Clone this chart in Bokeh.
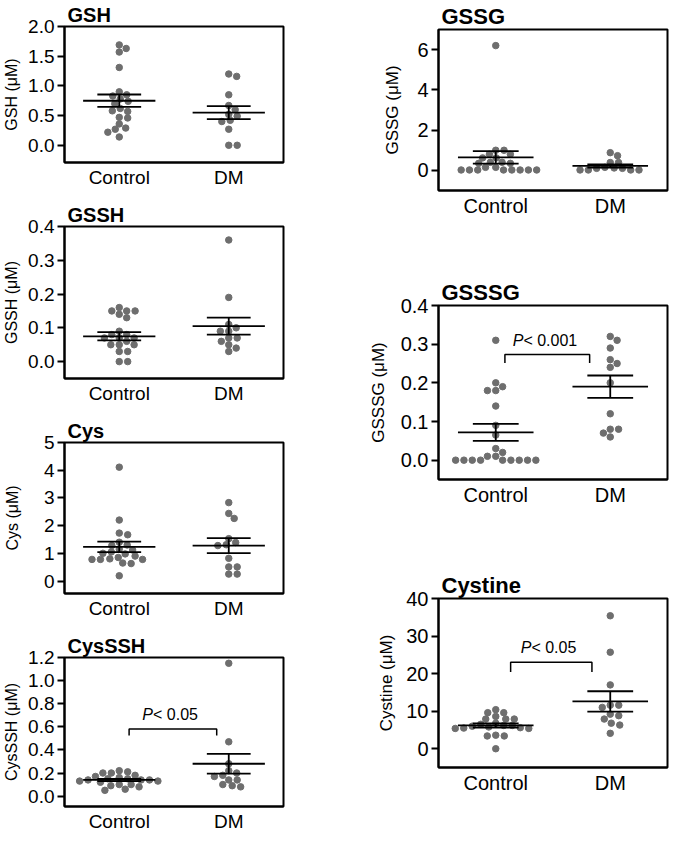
import numpy as np
from bokeh.plotting import figure
from bokeh.layouts import row, column
from bokeh.models import Range1d, FixedTicker, PrintfTickFormatter
from bokeh.core.properties import value
from bokeh.embed import file_html
from bokeh.resources import INLINE

FONT = "Liberation Sans"
groups = ["Control", "DM"]

# ---- data (µM) ----
gsh_control = [1.69, 1.63, 1.57, 1.31, 0.90, 0.85, 0.83, 0.78, 0.74, 0.70,
               0.62, 0.58, 0.57, 0.47, 0.46, 0.36, 0.29, 0.27, 0.22, 0.14]
gsh_dm = [1.20, 1.16, 0.85, 0.67, 0.60, 0.52, 0.49, 0.42, 0.40, 0.27, 0.0, 0.0]
gsh_mean = [0.75, 0.55]
gsh_sem = [0.105, 0.11]

gssg_control = [6.2, 1.0, 1.0, 0.8, 0.8, 0.62, 0.62, 0.40, 0.40, 0.35, 0.35,
                0.15, 0.15, 0.02, 0.02, 0.02, 0.02, 0.02, 0.02, 0.02, 0.02]
gssg_dm = [0.88, 0.73, 0.39, 0.39, 0.15, 0.12, 0.10, 0.10, 0.02, 0.02, 0.02, 0.02]
gssg_mean = [0.65, 0.22]
gssg_sem = [0.31, 0.08]

gssh_control = [0.16, 0.15, 0.15, 0.15, 0.14, 0.13, 0.09, 0.08, 0.08, 0.07,
                0.07, 0.07, 0.06, 0.05, 0.05, 0.05, 0.03, 0.03, 0.0, 0.0]
gssh_dm = [0.36, 0.19, 0.11, 0.10, 0.09, 0.09, 0.07, 0.07, 0.06, 0.05, 0.04, 0.03]
gssh_mean = [0.075, 0.105]
gssh_sem = [0.012, 0.025]

gsssg_control = [0.31, 0.20, 0.19, 0.18, 0.18, 0.14, 0.09, 0.065, 0.03, 0.02,
                 0.01, 0.01, 0.0, 0.0, 0.0, 0.0, 0.0, 0.0, 0.0, 0.0, 0.0]
gsssg_dm = [0.32, 0.31, 0.29, 0.26, 0.25, 0.24, 0.20, 0.12, 0.08, 0.08, 0.07, 0.06]
gsssg_mean = [0.072, 0.19]
gsssg_sem = [0.022, 0.029]

cys_control = [4.11, 2.2, 1.73, 1.67, 1.4, 1.3, 1.28, 1.15, 1.12, 1.05, 1.0,
               0.98, 0.9, 0.85, 0.8, 0.78, 0.78, 0.78, 0.65, 0.63, 0.19]
cys_dm = [2.83, 2.44, 2.26, 1.53, 1.39, 1.31, 1.28, 0.82, 0.51, 0.51, 0.25, 0.25]
cys_mean = [1.23, 1.28]
cys_sem = [0.19, 0.27]

cysssh_control = [0.22, 0.21, 0.20, 0.20, 0.18, 0.17, 0.16, 0.15, 0.15, 0.14, 0.14,
                  0.14, 0.13, 0.13, 0.12, 0.10, 0.10, 0.09, 0.08, 0.06, 0.05]
cysssh_dm = [1.15, 0.47, 0.28, 0.22, 0.20, 0.18, 0.17, 0.14, 0.14, 0.10, 0.09, 0.08]
cysssh_mean = [0.14, 0.28]
cysssh_sem = [0.01, 0.085]

cystine_control = [10.4, 9.6, 9.6, 8.6, 7.9, 7.9, 7.9, 6.8, 6.5, 6.2, 6.2,
                   6.0, 5.8, 5.6, 5.5, 5.4, 5.4, 3.6, 3.4, 3.4, 0.0]
cystine_dm = [35.4, 25.7, 17.0, 11.6, 11.6, 11.0, 9.2, 8.8, 7.9, 6.8, 6.3, 4.1]
cystine_mean = [6.2, 12.6]
cystine_sem = [0.55, 2.7]

# significance annotations: (x_left, x_right, y_bar, leg_drop, label)
cysssh_sig = (1.09, 1.89, 0.58, 0.055, "0.05")
gsssg_sig = (1.08, 1.82, 0.273, 0.022, "0.001")
cystine_sig = (1.13, 1.84, 23.0, 2.6, "0.05")

DOT = "#6e6e6e"


def swarm(vals, ypx, xpx, dx=8.5, dy=6.5):
    """Beeswarm offsets (in data units) so that dots do not overlap."""
    vals = np.asarray(vals, float)
    order = np.argsort(-vals, kind="stable")
    placed = []
    offs = np.zeros(len(vals))
    cands = [0.0]
    for k in range(1, 300):
        cands += [k * 0.5, -k * 0.5]
    for i in order:
        y = vals[i] * ypx
        for c in cands:
            hit = False
            for px, py in placed:
                if ((c - px) / dx) ** 2 + ((y - py) / dy) ** 2 < 1.0:
                    hit = True
                    break
            if not hit:
                break
        placed.append((c, y))
        offs[i] = c / xpx
    return offs


def panel(title, ylabel, ctrl, dm, mean, sem, yr, ticks, fmt, geom, fonts, sig=None,
          label_standoff=10):
    width, height, bl, br, bt, bb = geom
    tfs, tick_fs, cat_fs, yl_fs = fonts
    p = figure(width=width, height=height, output_backend="svg", toolbar_location=None,
               x_range=Range1d(0.5, 2.5), y_range=Range1d(*yr),
               min_border_left=bl, min_border_right=br, min_border_top=bt,
               min_border_bottom=bb, title=title)
    p.title.text_font = FONT
    p.title.text_font_size = f"{tfs}px"
    p.title.text_font_style = "bold"
    p.title.text_color = "black"
    p.title.standoff = 2
    p.title.offset = 3
    p.grid.visible = False
    p.outline_line_color = "black"
    p.outline_line_width = 2
    p.outline_line_alpha = 1.0
    p.background_fill_color = "white"
    p.border_fill_color = "white"

    fw = width - bl - br
    fh = height - bt - bb
    xpx = fw / (2.5 - 0.5)
    ypx = fh / (yr[1] - yr[0])

    for gi, vals in enumerate([ctrl, dm]):
        xs = (gi + 1) + swarm(vals, ypx, xpx)
        p.scatter(xs, vals, marker="circle", size=6.5, fill_color=DOT, line_color=DOT)
        cx = gi + 1
        m, s = mean[gi], sem[gi]
        p.segment(x0=[cx - 0.33], x1=[cx + 0.33], y0=[m], y1=[m], line_color="black", line_width=1.8)
        p.segment(x0=[cx - 0.2, cx - 0.2], x1=[cx + 0.2, cx + 0.2], y0=[m - s, m + s],
                  y1=[m - s, m + s], line_color="black", line_width=1.8)
        p.segment(x0=[cx], x1=[cx], y0=[m - s], y1=[m + s], line_color="black", line_width=1.8)

    if sig is not None:
        x0, x1, yb, drop, lab = sig
        p.line([x0, x0, x1, x1], [yb - drop, yb, yb, yb - drop], line_color="black", line_width=1.5)
        xc = (x0 + x1) / 2
        fs = 16
        rest = "< " + lab
        w_rest = 0.5 * fs * (len(rest) + 0.3)
        w_p = 0.667 * fs
        off = (w_p - w_rest) / 2
        p.text([xc], [yb], text=["P"], text_align="right", text_baseline="bottom",
               x_offset=off, y_offset=-6, text_font=value(FONT), text_font_style="italic",
               text_font_size=f"{fs}px", text_color="black")
        p.text([xc], [yb], text=[rest], text_align="left", text_baseline="bottom",
               x_offset=off, y_offset=-6, text_font=value(FONT),
               text_font_size=f"{fs}px", text_color="black")

    xa = p.xaxis[0]
    xa.ticker = FixedTicker(ticks=[1, 2])
    xa.major_label_overrides = {1: groups[0], 2: groups[1]}
    xa.major_tick_line_color = None
    xa.minor_tick_line_color = None
    xa.major_tick_out = 0
    xa.major_tick_in = 0
    xa.minor_tick_out = 0
    xa.minor_tick_in = 0
    xa.axis_label = None
    xa.axis_label_standoff = 0
    xa.axis_line_width = 2
    xa.major_label_standoff = 4
    xa.major_label_text_font = FONT
    xa.major_label_text_font_size = f"{cat_fs}px"
    xa.major_label_text_color = "black"

    ya = p.yaxis[0]
    ya.ticker = FixedTicker(ticks=ticks)
    ya.formatter = PrintfTickFormatter(format=fmt)
    ya.minor_tick_line_color = None
    ya.minor_tick_out = 0
    ya.minor_tick_in = 0
    ya.major_tick_out = 7
    ya.major_tick_in = 0
    ya.major_tick_line_width = 2
    ya.axis_line_width = 2
    ya.major_label_standoff = 3
    ya.major_label_text_font = FONT
    ya.major_label_text_font_size = f"{tick_fs}px"
    ya.major_label_text_color = "black"
    ya.axis_label = ylabel
    ya.axis_label_text_font = FONT
    ya.axis_label_text_font_style = "normal"
    ya.axis_label_text_font_size = f"{yl_fs}px"
    ya.axis_label_text_color = "black"
    ya.axis_label_standoff = label_standoff
    return p


LF = (20, 19, 19, 16)
RF = (22, 20, 20, 17)

# geometry: (width, height, border_left, border_right, border_top, border_bottom)
p_gsh = panel("GSH", "GSH (μM)", gsh_control, gsh_dm, gsh_mean, gsh_sem,
              (-0.29, 2.0), [0, 0.5, 1.0, 1.5, 2.0], "%.1f",
              (293, 200, 62, 10, 15, 38), LF, label_standoff=5)
p_gssh = panel("GSSH", "GSSH (μM)", gssh_control, gssh_dm, gssh_mean, gssh_sem,
               (-0.05, 0.4), [0, 0.1, 0.2, 0.3, 0.4], "%.1f",
               (293, 216, 62, 10, 21, 38), LF, label_standoff=5)
p_cys = panel("Cys", "Cys (μM)", cys_control, cys_dm, cys_mean, cys_sem,
              (-0.45, 5.0), [0, 1, 2, 3, 4, 5], "%d",
              (293, 215, 62, 10, 21, 38), LF, label_standoff=20)
p_cysssh = panel("CysSSH", "CysSSH (μM)", cysssh_control, cysssh_dm, cysssh_mean, cysssh_sem,
                 (-0.09, 1.2), [0, 0.2, 0.4, 0.6, 0.8, 1.0, 1.2], "%.1f",
                 (293, 213, 62, 10, 21, 38), LF, sig=cysssh_sig, label_standoff=5)

p_gssg = panel("GSSG", "GSSG (μM)", gssg_control, gssg_dm, gssg_mean, gssg_sem,
               (-1.0, 7.0), [0, 2, 4, 6], "%d",
               (376, 229, 139, 2, 18, 39), RF, label_standoff=12)
p_gsssg = panel("GSSSG", "GSSSG (μM)", gsssg_control, gsssg_dm, gsssg_mean, gsssg_sem,
                (-0.05, 0.4), [0, 0.1, 0.2, 0.3, 0.4], "%.1f",
                (376, 289, 140, 2, 76, 39), RF, sig=gsssg_sig, label_standoff=10)
p_cystine = panel("Cystine", "Cystine (μM)", cystine_control, cystine_dm, cystine_mean, cystine_sem,
                  (-5.0, 40.0), [0, 10, 20, 30, 40], "%d",
                  (376, 326, 145, 2, 80, 77), RF, sig=cystine_sig, label_standoff=7)

layout = row(column(p_gsh, p_gssh, p_cys, p_cysssh),
             column(p_gssg, p_gsssg, p_cystine))

open("out.html", "w").write(file_html(layout, INLINE))
